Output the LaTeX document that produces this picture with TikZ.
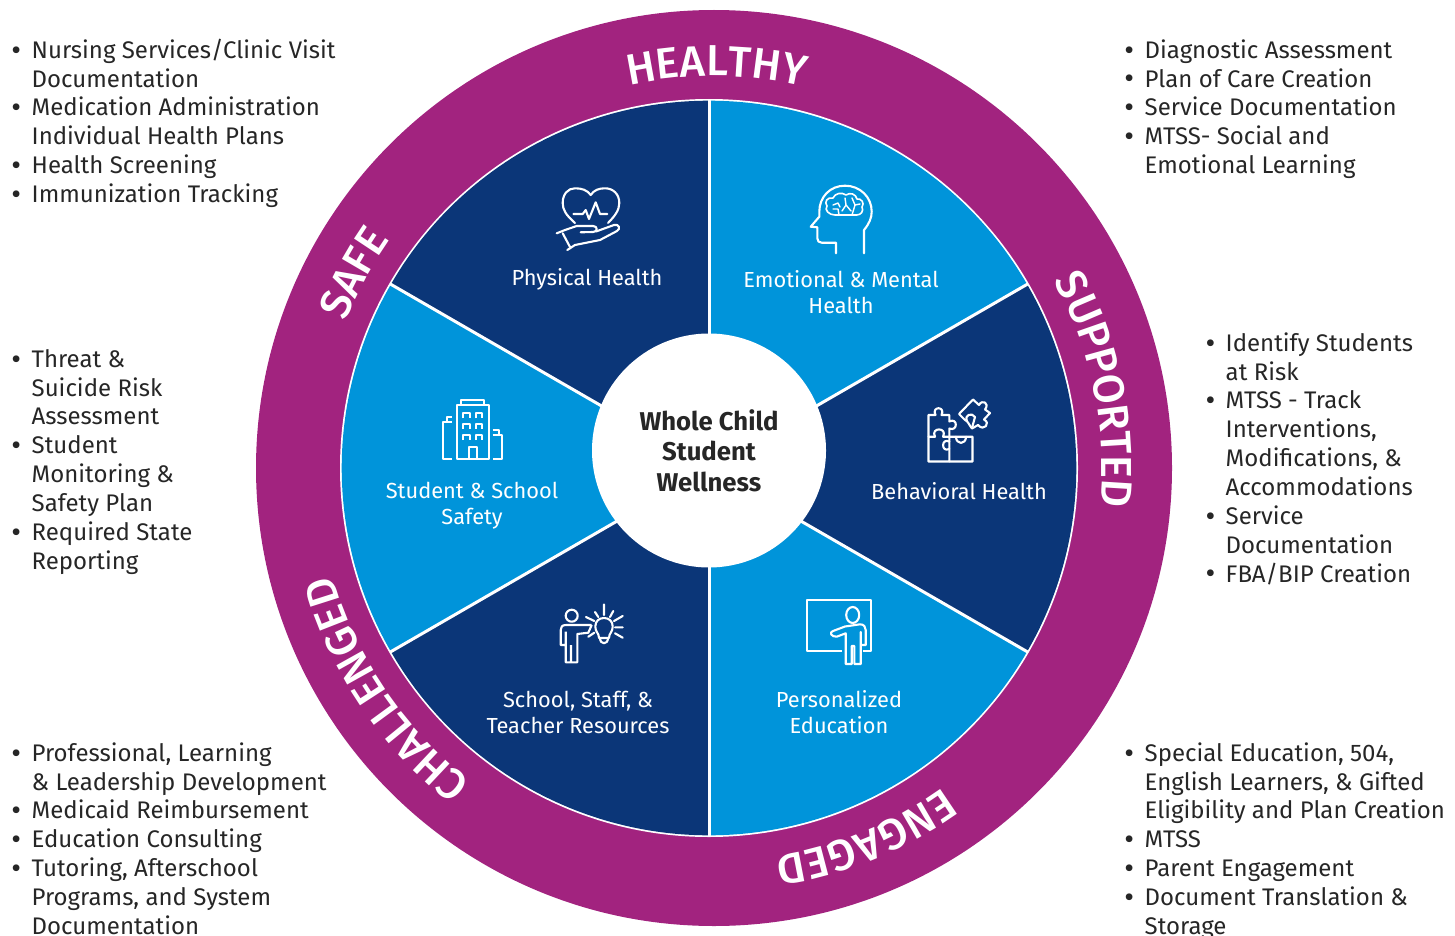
\documentclass[tikz,border=0pt]{standalone}
\usepackage{fontspec}
\usetikzlibrary{decorations.text}
\setmainfont{Fira Sans}
\newfontfamily\bodyf{Fira Sans Medium}
\definecolor{ringc}{HTML}{A2237F}
\definecolor{darkb}{HTML}{0B3678}
\definecolor{lightb}{HTML}{0094DA}
\definecolor{txt}{HTML}{262626}
\newcommand\ringfont{\bodyf\fontsize{43.3}{44}\selectfont}
\newcommand\bl{\leavevmode\rule{0pt}{20pt}\llap{\raisebox{-1.9pt}{\fontsize{30}{30}\selectfont\textbullet}\hspace{10.5pt}}}
\tikzset{
 x=1pt,y=-1pt,
 listtext/.style={anchor=north west,inner sep=0pt,align=left,text=txt,font=\fontsize{24}{28.85}\selectfont},
 wheeltext/.style={inner sep=0pt,align=center,text=white,font=\fontsize{21.8}{26}\selectfont},
 icon/.style={draw=white,line width=2.1pt,line join=round,line cap=round,fill=none},
 ringtext/.style={decorate,decoration={text along path,text align={center},text={|\ringfont\color{white}|#1}}}
}
\begin{document}
\begin{tikzpicture}
\useasboundingbox (0,0) rectangle (1455,936);
\fill[ringc] (714,468) circle[radius=458];
\fill[white] (709,468) circle[radius=369];
\begin{scope}[x=1pt,y=1pt,shift={(709pt,-468pt)}]
 \foreach \a/\c in {90/lightb,30/darkb,-30/lightb,-90/darkb,-150/lightb,-210/darkb}{
  \pgfmathsetmacro\b{\a-60}
  \fill[\c] (0,0) -- (\a:367.3) arc[start angle=\a,end angle=\b,radius=367.3] -- cycle;
 }
 \foreach \a in {90,30,-30,-90,-150,-210}{
  \draw[white,line width=3pt] (0,0) -- (\a:368);
 }
\end{scope}
\node[circle,fill=white,minimum size=234pt,inner sep=0pt,align=center,font=\bfseries\fontsize{25.7}{30.5}\selectfont,text=txt] (centre) at (709,450.5) {Whole Child\\Student\\Wellness};
% ring words
\begin{scope}[x=1pt,y=1pt,shift={(714pt,-468pt)}]
 \path[ringtext=HEALTHY] (110.6:392) arc[start angle=110.6,end angle=68.6,radius=392];
 \path[ringtext=SUPPORTED] (41.6:388) arc[start angle=41.6,end angle=-18.4,radius=388];
 \path[ringtext=ENGAGED] (-45.2:393) arc[start angle=-45.2,end angle=-90.2,radius=393];
 \path[ringtext=CHALLENGED] (245:396) arc[start angle=245,end angle=183,radius=396];
 \path[ringtext=SAFE] (167.6:396) arc[start angle=167.6,end angle=135.6,radius=396];
\end{scope}
% wheel labels
\node[wheeltext] (phys) at (587,279) {Physical Health};
\node[wheeltext] (emot) at (841,292) {Emotional \& Mental\\Health};
\node[wheeltext] (behav) at (959,491) {Behavioral Health};
\node[wheeltext] (stud) at (472,506) {Student \& School\\Safety};
\node[wheeltext] (staff) at (578,712) {School, Staff, \&\\Teacher Resources};
\node[wheeltext] (pers) at (839,712) {Personalized\\Education};
% lists
\node[listtext] (l1) at (31.5,38) {\bl Nursing Services/Clinic Visit\\Documentation\\\bl Medication Administration\\Individual Health Plans\\\bl Health Screening\\\bl Immunization Tracking};
\node[listtext] (l2) at (31.5,347) {\bl Threat \&\\Suicide Risk\\Assessment\\\bl Student\\Monitoring \&\\Safety Plan\\\bl Required State\\Reporting};
\node[listtext] (l3) at (31.5,741) {\bl Professional, Learning\\\& Leadership Development\\\bl Medicaid Reimbursement\\\bl Education Consulting\\\bl Tutoring, Afterschool\\Programs, and System\\Documentation};
\node[listtext] (r1) at (1144.5,38) {\bl Diagnostic Assessment\\\bl Plan of Care Creation\\\bl Service Documentation\\\bl MTSS- Social and\\Emotional Learning};
\node[listtext] (r2) at (1225.5,331) {\bl Identify Students\\at Risk\\\bl MTSS - Track\\Interventions,\\Modifications, \&\\Accommodations\\\bl Service\\Documentation\\\bl FBA/BIP Creation};
\node[listtext] (r3) at (1144.5,741) {\bl Special Education, 504,\\English Learners, \& Gifted\\Eligibility and Plan Creation\\\bl MTSS\\\bl Parent Engagement\\\bl Document Translation \&\\Storage};
% heart and hand icon
\draw[icon] (575,223) .. controls (566,215) and (562.7,210) .. (562.7,203) .. controls (562.7,194) and (568,188.3) .. (575,188.3) .. controls (582,188.3) and (587,190) .. (590.7,195) .. controls (594,190) and (599,188.3) .. (605,188.3) .. controls (613,188.3) and (619.3,194) .. (619.3,203) .. controls (619.3,210) and (615,216) .. (608,223);
\draw[icon] (573.3,214) -- (582.7,214) -- (585.7,210) -- (589,219) -- (595.7,202.3) -- (600,214) -- (607.3,214);
\draw[icon] (556.7,233.3) -- (565,230) -- (576.7,226) -- (593,226) .. controls (598,226) and (598,232) .. (593,232) -- (580.7,232.3);
\draw[icon] (596,231.5) -- (614,225) .. controls (619,223.5) and (621,229) .. (617,231) -- (600,240) -- (575,245) -- (567.3,250);
\draw[icon] (562.7,233.3) -- (570,247);
% head and brain icon
\draw[icon] (864,253.3) -- (864,230) .. controls (869,224) and (871.7,218) .. (871.7,211.7) .. controls (871.7,197) and (860,185.7) .. (845,185.7) .. controls (830,185.7) and (819.3,197) .. (819.3,211.7) -- (819.3,216.7) -- (810.7,226.7) -- (817.3,227.3) -- (817.3,238.3) .. controls (817.3,241) and (819,242.7) .. (821.7,242.7) -- (836,242.7) -- (836,253.3);
\draw[icon,line width=1.6pt] (835,215) -- (856.7,215) .. controls (861,215) and (864,211) .. (862,207) .. controls (865,203) and (861,198) .. (857,199) .. controls (856,194) and (850,192) .. (846,195) .. controls (842,192) and (835,193) .. (833,198) .. controls (827,197) and (824,202) .. (827,206) .. controls (824,210) and (829,215) .. (835,215);
\draw[icon,line width=1.4pt] (833,205) -- (838,203) -- (840,207) (839,215) -- (838,209) -- (833,209) (845,198) -- (846,205) -- (842,211) (846,205) -- (851,211) (852,198) -- (855,205) -- (852,215) (855,205) -- (860,204);
% building icon
\draw[icon,line cap=butt] (456.7,405) rectangle (489,459.3);
\draw[icon,line cap=butt] (460.7,405) -- (460.7,400) -- (484,400) -- (484,405);
\draw[icon,line cap=butt] (469,459.3) -- (469,447.3) -- (476.7,447.3) -- (476.7,459.3);
\foreach \wx in {463.3,475.7}\foreach \wy in {413.3,423.8,435}{
 \draw[icon,line cap=butt,line width=1.8pt] (\wx,\wy+5) -- (\wx,\wy) -- (\wx+6.5,\wy) -- (\wx+6.5,\wy+5);
}
\draw[icon,line cap=butt] (452.3,459.3) -- (443.3,459.3) -- (443.3,421.7) -- (452.3,421.7) (447.3,421.7) -- (447.3,416.7) -- (452.3,416.7);
\draw[icon,line cap=butt] (492.7,430) -- (499.3,430) -- (499.3,435) -- (501.7,435) -- (501.7,459.3) -- (492.7,459.3) (492.7,435) -- (499.3,435);
% puzzle icon
\draw[icon] (949.3,436.7) -- (949.3,461.5) -- (928.5,461.5) -- (928.5,415) -- (935.5,415) .. controls (931,406) and (946,406) .. (941.5,415) -- (949.3,415) -- (949.3,421.5) .. controls (958,417) and (958,432) .. (949.3,428.5) -- (949.3,436.7);
\draw[icon] (928.5,436.7) -- (935,436.7) .. controls (930,427) and (948,427) .. (943,436.7) -- (972.5,436.7) -- (972.5,461.5) -- (949.3,461.5);
\draw[icon] (949.3,441.5) .. controls (941,437.5) and (941,453) .. (949.3,449);
\draw[icon] (956,436.7) .. controls (956,445) and (966,445) .. (966,436.7);
\draw[icon] (959,414) -- (973,399.5) -- (979,405) .. controls (982,399) and (990,403) .. (985,409.5) -- (990,413) -- (984,419.5) .. controls (991,423) and (984,432) .. (978,425) -- (972,428.5) .. controls (969,425) and (968,421) .. (965,420) -- (959,414);
\draw[icon] (967,421) .. controls (964,415) and (972,412) .. (975,417) -- (972,428);
% person and bulb icon
\draw[icon] (571.7,615.7) circle[radius=6];
\draw[icon,line cap=butt] (591.7,625) -- (566,625) .. controls (562,625) and (560.7,627) .. (560.7,630) -- (560.7,645) -- (565.7,645) (565.7,631.7) -- (565.7,662.3) -- (571,662.3) -- (571,645) (571,662.3) -- (577.3,662.3) -- (577.3,634) -- (588.3,632.7) -- (591.7,625);
\draw[icon] (599,638) .. controls (599,633) and (595.3,632) .. (595.3,626.7) .. controls (595.3,621) and (599,618) .. (604,618) .. controls (609,618) and (612.7,621) .. (612.7,626.7) .. controls (612.7,632) and (609,633) .. (609,638) -- cycle;
\draw[icon] (600,638) .. controls (600,645) and (608,645) .. (608,638);
\draw[icon] (604,604.5) -- (604,615) (595,612) -- (598.3,617) (610,617) -- (613.3,611) (586,617) -- (594.3,621) (614,621) -- (622.7,616) (615,627.3) -- (622.7,627.3) (588.3,636.7) -- (594.3,632.7) (615,633.3) -- (622.7,637.7);
% teacher icon
\draw[icon,line cap=butt] (841.7,651) -- (807.3,651) -- (807.3,600) -- (871,600) -- (871,651) -- (863.3,651);
\draw[icon] (852.7,615) ellipse[x radius=6.5,y radius=8];
\draw[icon] (833,631) -- (845,626.5) -- (860,624.3) .. controls (864,624.3) and (865.7,627) .. (865.7,630) -- (865.7,645) -- (860.7,645) (860.7,632) -- (860.7,664) -- (854.3,664) -- (854.3,646) -- (851.7,646) -- (851.7,664) -- (845.7,664) -- (845.7,633.3) -- (836.7,636.7) .. controls (831,637) and (829,632) .. (833,631);
\end{tikzpicture}
\end{document}
